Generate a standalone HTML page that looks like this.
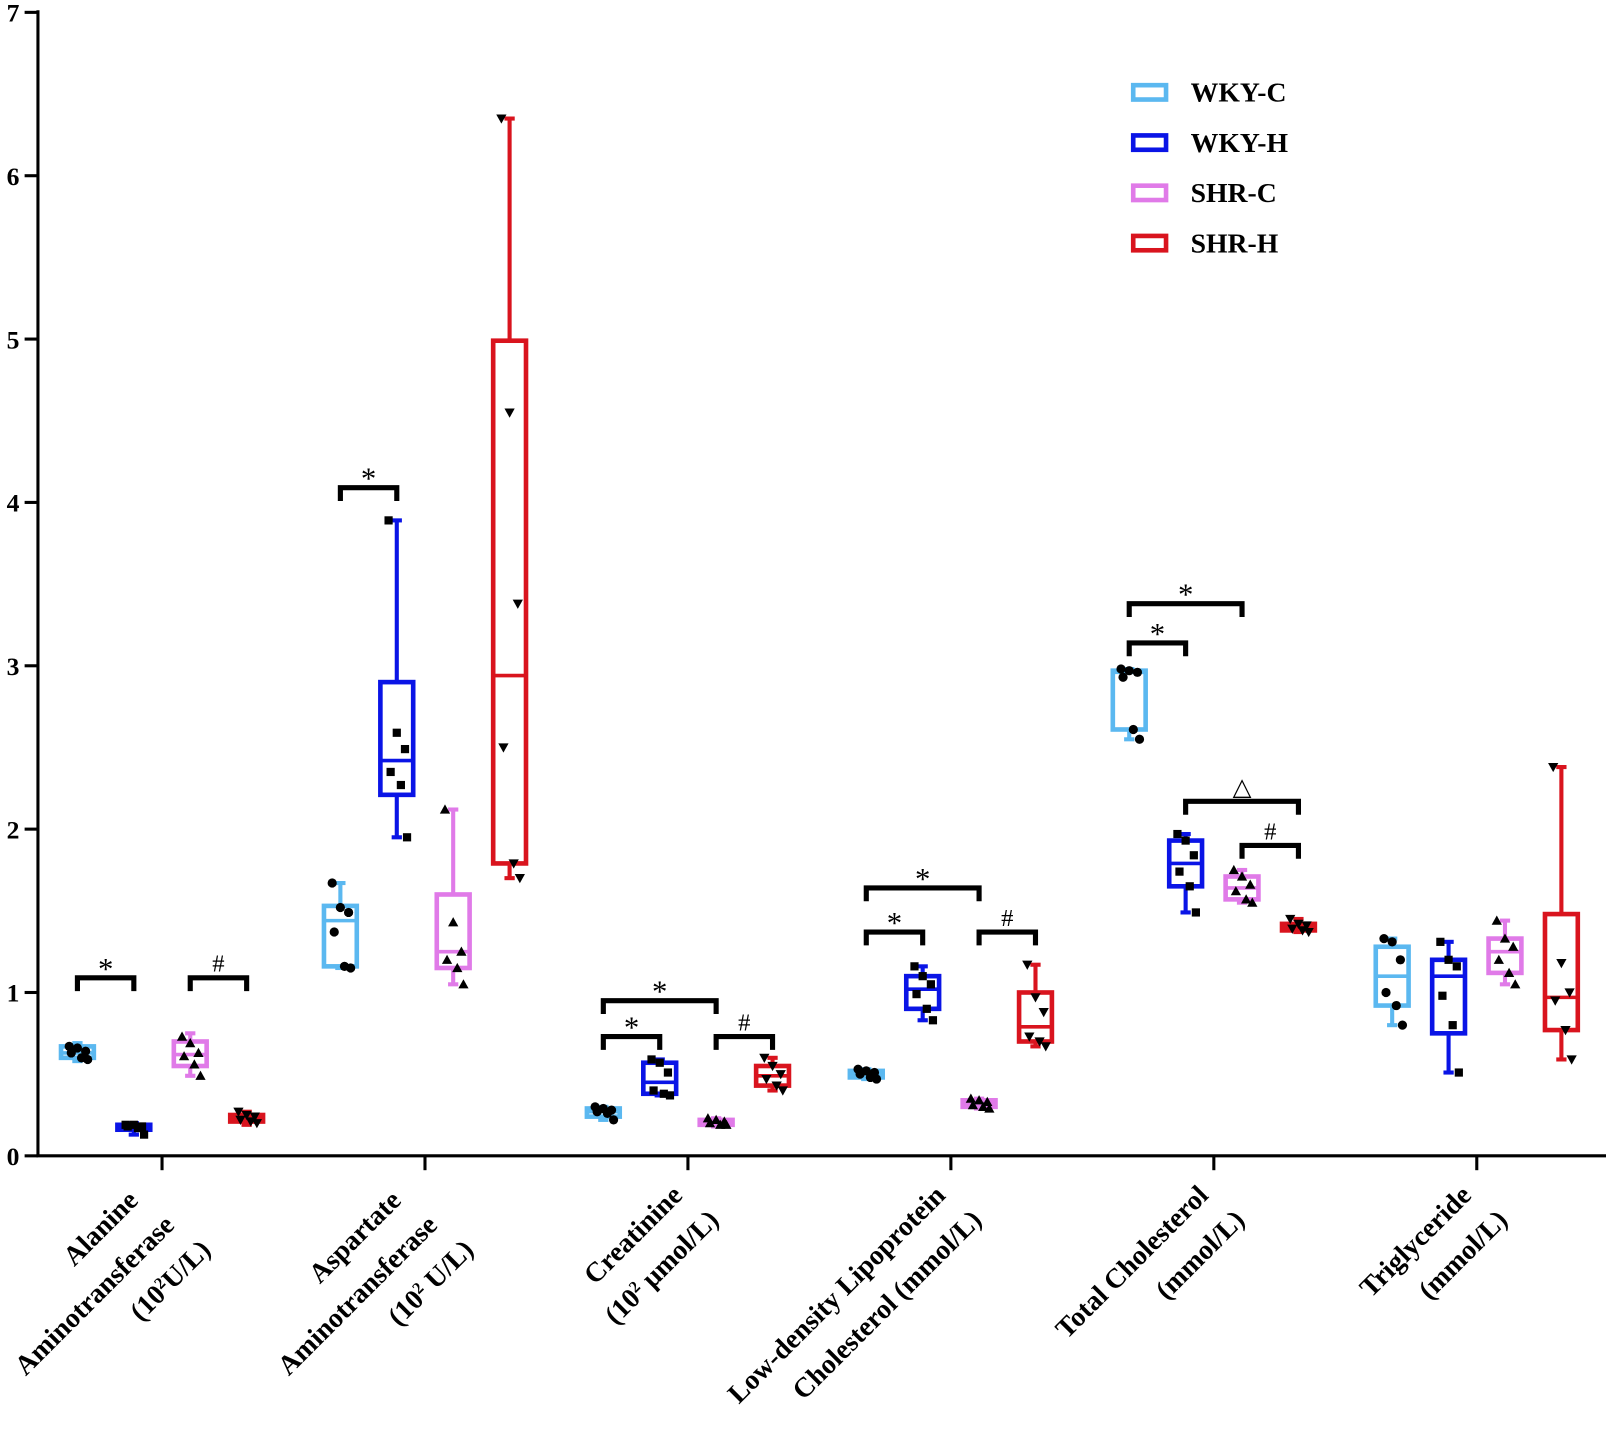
<!DOCTYPE html>
<html><head><meta charset="utf-8"><style>
html,body{margin:0;padding:0;background:#fff}
svg{display:block;font-family:"Liberation Serif",serif;font-weight:bold}
</style></head><body>
<svg id="chart" width="1606" height="1441" viewBox="0 0 1566 1405" xmlns="http://www.w3.org/2000/svg"></svg>
<script>
const categories=["ALT","AST","Creatinine","LDL","TC","TG"];
const seriesNames=["WKY-C","WKY-H","SHR-C","SHR-H"];
const seriesColors=["#5bb8f0","#0a14e6","#e07ae8","#d9141e"];
const yTicks=[0,1,2,3,4,5,6,7];
// box stats [min,q1,median,q3,max] per category per series
const boxWKYC=[[.58,.60,.63,.67,.69],[1.15,1.16,1.44,1.53,1.67],[.22,.24,.27,.29,.30],[.47,.48,.50,.52,.53],[2.55,2.61,2.96,2.97,2.98],[.80,.92,1.10,1.28,1.33]];
const boxWKYH=[[.13,.16,.18,.19,.20],[1.95,2.21,2.42,2.90,3.89],[.37,.38,.45,.57,.59],[.83,.90,1.02,1.10,1.16],[1.49,1.65,1.79,1.93,1.97],[.51,.75,1.10,1.20,1.31]];
const boxSHRC=[[.49,.55,.62,.70,.75],[1.05,1.15,1.25,1.60,2.12],[.18,.19,.21,.22,.23],[.29,.30,.32,.34,.35],[1.55,1.57,1.64,1.71,1.75],[1.05,1.12,1.25,1.33,1.44]];
const boxSHRH=[[.19,.21,.23,.25,.27],[1.70,1.79,2.94,4.99,6.35],[.40,.43,.49,.55,.60],[.67,.70,.79,1.00,1.17],[1.37,1.38,1.40,1.42,1.45],[.59,.77,.97,1.48,2.38]];
const ptsWKYC=[[.67,.66,.64,.63,.60,.59],[1.67,1.52,1.49,1.37,1.16,1.15],[.30,.29,.28,.27,.26,.22],[.53,.52,.51,.50,.48,.47],[2.98,2.97,2.96,2.93,2.61,2.55],[1.33,1.31,1.20,1.00,.92,.80]];
const ptsWKYH=[[.19,.19,.18,.18,.17,.13],[3.89,2.59,2.49,2.35,2.27,1.95],[.59,.57,.51,.40,.38,.37],[1.16,1.10,1.05,.99,.90,.83],[1.97,1.93,1.84,1.74,1.65,1.49],[1.31,1.20,1.16,.98,.80,.51]];
const ptsSHRC=[[.73,.69,.63,.61,.56,.49],[2.12,1.43,1.25,1.20,1.15,1.05],[.23,.22,.21,.20,.19,.19],[.35,.34,.33,.31,.30,.29],[1.75,1.71,1.66,1.62,1.57,1.55],[1.44,1.33,1.28,1.20,1.12,1.05]];
const ptsSHRH=[[.27,.25,.24,.22,.21,.20],[6.35,4.55,3.38,2.50,1.79,1.70],[.60,.55,.50,.47,.43,.40],[1.17,.97,.88,.73,.70,.67],[1.45,1.42,1.41,1.39,1.38,1.37],[2.38,1.18,1.00,.95,.77,.59]];
// significance brackets: category, fromSeries, toSeries, y value, label
const sigCat=[0,0,1,2,2,2,3,3,3,4,4,4,4];
const sigFrom=[0,2,0,0,0,2,0,0,2,0,0,1,2];
const sigTo=[1,3,1,1,2,3,1,2,3,1,2,3,3];
const sigY=[1.09,1.09,4.09,.73,.95,.73,1.37,1.64,1.37,3.14,3.38,2.17,1.90];
const sigLabel=["*","#","*","*","*","#","*","*","#","*","*","\u25B3","#"];
const xLabels=[["Alanine","Aminotransferase","(10|2|U/L)"],["Aspartate","Aminotransferase","(10|2| U/L)"],["Creatinine","(10|2| \u03BCmol/L)"],["Low-density Lipoprotein","Cholesterol (mmol/L)"],["Total Cholesterol","(mmol/L)"],["Triglyceride","(mmol/L)"]];

const boxes=[boxWKYC,boxWKYH,boxSHRC,boxSHRH];
const pts=[ptsWKYC,ptsWKYH,ptsSHRC,ptsSHRH];
const svg=document.getElementById('chart');
const NS="http://www.w3.org/2000/svg";
const X0=37,Y0=1127,Y7=12,XEND=1566;
const yS=v=>Y0-(Y0-Y7)*v/7;
const xCat=i=>158+256.4*i;
const offs=[-82.5,-27.5,27.5,82.5];
const xS=(c,s)=>xCat(c)+offs[s];
function el(tag,attrs,parent){const e=document.createElementNS(NS,tag);for(const k in attrs)e.setAttribute(k,attrs[k]);(parent||svg).appendChild(e);return e;}

let ax=el('line',{x1:X0,y1:Y0,x2:X0,y2:Y7-2,stroke:'#000','stroke-width':3});


let xa=el('line',{x1:X0-1.5,y1:Y0,x2:XEND,y2:Y0,stroke:'#000','stroke-width':3});


yTicks.forEach(t=>{
  const y=yS(t);
  const tk=el('line',{x1:X0-13,y1:y,x2:X0,y2:y,stroke:'#000','stroke-width':3});
  
  
  const tx=el('text',{x:19,y:y+9,'text-anchor':'end','font-size':25});
  tx.textContent=t;
  
  
});
categories.forEach((c,i)=>{
  const x=xCat(i);
  const tk=el('line',{x1:x,y1:Y0,x2:x,y2:Y0+14,stroke:'#000','stroke-width':3});
  
  
  const lines=xLabels[i];
  const n=lines.length;
  const ax0=n===3?x-22:x-4, ay0=n===3?1172:1167;
  const t=el('text',{transform:`translate(${ax0},${ay0}) rotate(-45)`,'text-anchor':'end','font-size':27});
  
  
  lines.forEach((ln,j)=>{
    const parts=ln.split('|');
    const ts=el('tspan',{x:j*8,y:j*42},t);
    ts.textContent=parts[0];
    if(parts.length>1){
      const sup=el('tspan',{'baseline-shift':'super','font-size':16},t);
      sup.textContent=parts[1];
      const rest=el('tspan',{},t);
      rest.textContent=parts[2];
    }
  });
});

const jit=[-8,0,8,-6,4,10];
for(let s=0;s<4;s++){
  const col=seriesColors[s];
  for(let c=0;c<6;c++){
    const b=boxes[s][c], x=xS(c,s), w=32;
    const g=el('g',{});
    
    
    el('line',{x1:x,y1:yS(b[0]),x2:x,y2:yS(b[1]),stroke:col,'stroke-width':4},g);
    el('line',{x1:x,y1:yS(b[3]),x2:x,y2:yS(b[4]),stroke:col,'stroke-width':4},g);
    el('line',{x1:x-5,y1:yS(b[0]),x2:x+5,y2:yS(b[0]),stroke:col,'stroke-width':4},g);
    el('line',{x1:x-5,y1:yS(b[4]),x2:x+5,y2:yS(b[4]),stroke:col,'stroke-width':4},g);
    el('rect',{x:x-w/2,y:yS(b[3]),width:w,height:Math.max(1,yS(b[1])-yS(b[3])),fill:'none',stroke:col,'stroke-width':4.5},g);
    el('line',{x1:x-w/2,y1:yS(b[2]),x2:x+w/2,y2:yS(b[2]),stroke:col,'stroke-width':3.5},g);
    pts[s][c].forEach((v,k)=>{
      const px=x+jit[k], py=yS(v);
      let m;
      if(s===0)m=el('circle',{cx:px,cy:py,r:4.5,fill:'#000'},g);
      else if(s===1)m=el('rect',{x:px-4,y:py-4,width:8,height:8,fill:'#000'},g);
      else if(s===2)m=el('polygon',{points:`${px},${py-5} ${px-5},${py+4} ${px+5},${py+4}`,fill:'#000'},g);
      else m=el('polygon',{points:`${px},${py+5} ${px-5},${py-4} ${px+5},${py-4}`,fill:'#000'},g);
      
      
    });
  }
}
sigCat.forEach((c,i)=>{
  const x1=xS(c,sigFrom[i]), x2=xS(c,sigTo[i]);
  const y=yS(sigY[i]);
  const p=el('path',{d:`M${x1},${y+13} V${y} H${x2} V${y+13}`,fill:'none',stroke:'#000','stroke-width':5});
  
  
  const isStar=sigLabel[i]==='*';
  const t=el('text',{x:(x1+x2)/2,y:y-(isStar?-1:6),'text-anchor':'middle','font-size':isStar?30:24,'font-weight':'normal'});
  t.textContent=sigLabel[i];
  
  
});
seriesNames.forEach((n,i)=>{
  const y=90+49*i;
  const g=el('g',{});
  
  
  el('rect',{x:1105,y:y-7,width:32,height:14,fill:'none',stroke:seriesColors[i],'stroke-width':4.5},g);
  const t=el('text',{x:1161,y:y+9,'font-size':27},g);
  t.textContent=n;
});
</script>
</body></html>
